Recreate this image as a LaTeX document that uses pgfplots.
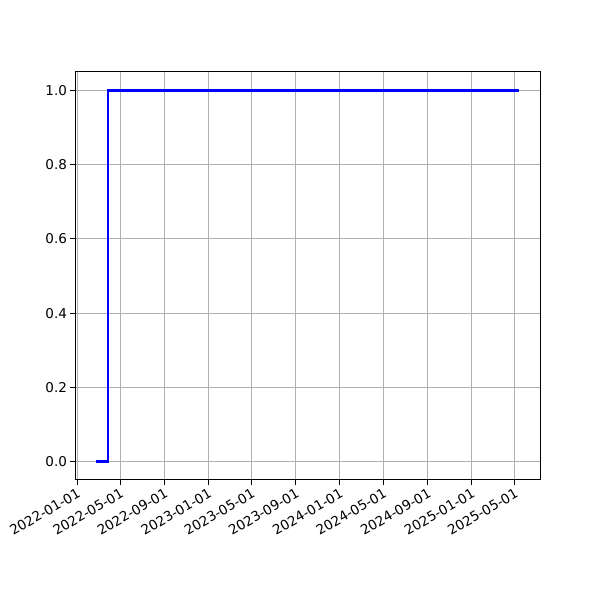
\documentclass[border=0pt]{standalone}
\usepackage{pgfplots}
\pgfplotsset{compat=1.18}
\usepackage{fontspec}
\setmainfont{DejaVu Sans}
\begin{document}
\begin{tikzpicture}
\path[use as bounding box] (0,0) rectangle (600bp,600bp);
\begin{axis}[
  at={(75bp,120bp)}, anchor=south west,
  scale only axis, width=465bp, height=408bp,
  xmin=-5.7, xmax=1285.7,
  ymin=-0.05, ymax=1.05,
  xtick={0,120,243,365,485,608,730,851,974,1096,1216},
  xticklabels={2022-01-01,2022-05-01,2022-09-01,2023-01-01,2023-05-01,2023-09-01,2024-01-01,2024-05-01,2024-09-01,2025-01-01,2025-05-01},
  ytick={0,0.2,0.4,0.6,0.8,1.0},
  yticklabel style={/pgf/number format/fixed,/pgf/number format/precision=1,/pgf/number format/fixed zerofill},
  /pgf/number format/assume math mode=true,
  xticklabel style={rotate=30, anchor=north east, inner sep=2bp, font=\fontsize{13.5bp}{16bp}\selectfont},
  yticklabel style={font=\fontsize{13.5bp}{16bp}\selectfont, inner sep=3bp},
  tick align=outside, major tick length=4.9bp,
  tick style={black, line width=1bp},
  xtick pos=bottom, ytick pos=left,
  grid=major, grid style={color=black!31, line width=1bp},
  axis line style={line width=1bp},
]
\addplot[blue, line width=2.2bp, const plot mark left] coordinates {(53,0) (86,1) (1227,1)};
\end{axis}
\end{tikzpicture}
\end{document}
